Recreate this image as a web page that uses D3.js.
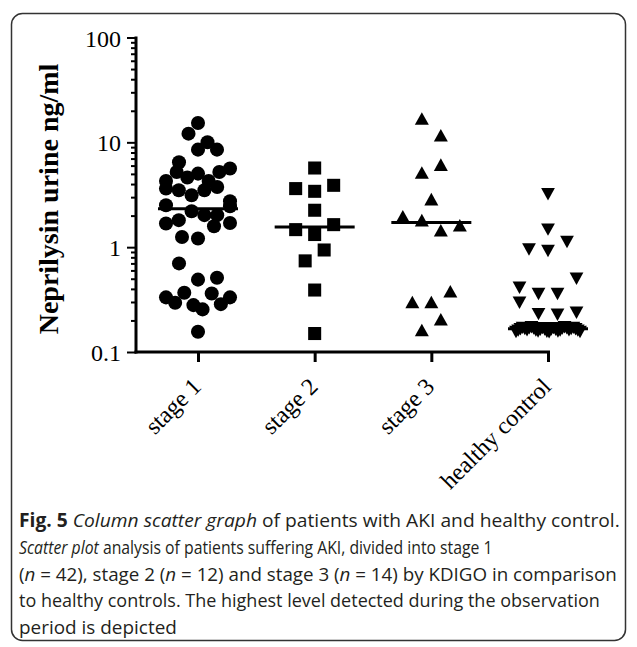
<!DOCTYPE html>
<html>
<head>
<meta charset="utf-8">
<script src="https://cdn.jsdelivr.net/npm/d3@7"></script>
<style>
  body { margin: 0; background: #fff; }
  svg { display: block; }
</style>
</head>
<body>
<div id="chart"></div>
<script>
// data (ng/ml), each column listed left to right as plotted
const groups = ["stage 1", "stage 2", "stage 3", "healthy control"];
const stage1 = [2.51, 1.81, 6.45, 12.1, 4.28, 0.332, 2.2, 1.68, 0.70, 0.295, 5.21, 3.62, 8.52, 0.367,
  4.61, 2.02, 1.25, 3.49, 0.280, 15.3, 0.49, 0.156, 5.03, 0.255, 3.13, 2.02, 1.21, 8.52, 0.362, 4.28,
  5.21, 0.286, 3.49, 1.58, 0.51, 2.46, 0.332, 3.75, 10.0, 5.62, 2.74, 1.70];
const stage2 = [3.62, 1.47, 0.74, 5.69, 3.41, 2.25, 1.32, 0.39, 0.15, 0.94, 3.89, 1.64];
const stage3 = [1.97, 0.30, 1.81, 16.9, 5.15, 0.162, 2.87, 1.45, 0.30, 0.205, 11.7, 6.13, 1.62, 0.38];
const healthy = [3.20, 1.47, 0.95, 0.92, 1.12, 0.41, 0.357, 0.357, 0.50, 0.295, 0.230, 0.227, 0.237,
  0.155, 0.160, 0.165, 0.170, 0.166, 0.161, 0.168, 0.172, 0.167, 0.160, 0.157, 0.163, 0.169, 0.164, 0.156,
  0.154, 0.164, 0.169, 0.163, 0.157, 0.160, 0.167, 0.172, 0.168, 0.161, 0.166, 0.170, 0.165, 0.160, 0.155];
const yDecades = [0.1, 1, 10, 100];
const yTitle = "Neprilysin urine ng/ml";
const captionLines = [
  [["Fig. 5 ", "b"], ["Column scatter graph", "i"], [" of patients with AKI and healthy control.", ""]],
  [["Scatter plot", "i"], [" analysis of patients suffering AKI, divided into stage 1", ""]],
  [["(", ""], ["n", "i"], [" = 42), stage 2 (", ""], ["n", "i"], [" = 12) and stage 3 (", ""], ["n", "i"], [" = 14) by KDIGO in comparison", ""]],
  [["to healthy controls. The highest level detected during the observation", ""]],
  [["period is depicted", ""]]
];

const W = 637, H = 647;
const PLOT = {left: 136, right: 550, top: 37.5, bottom: 352};
const ROW_GAP = 17, STEP = 19, MAX_SPREAD = 64;
const SERIF = '"Liberation Serif", "Times New Roman", serif';

const svg = d3.select('#chart').append('svg')
  .attr('width', W).attr('height', H);

// rounded frame around figure + caption
svg.append('rect')
  .attr('x', 11.5).attr('y', 13.5)
  .attr('width', 614).attr('height', 627)
  .attr('rx', 11)
  .attr('fill', 'none')
  .attr('stroke', '#333')
  .attr('stroke-width', 1.5);

const yScale = d3.scaleLog()
  .domain([0.1, 100])
  .range([PLOT.bottom, PLOT.top]);
const xScale = d3.scalePoint()
  .domain(groups)
  .range([198, 548]);

// Prism-like column scatter: rows of near-equal values spread symmetrically
function columnScatter(values, cx) {
  const pts = values.map((v, i) => ({v, i, py: yScale(v)}));
  const rows = [];
  let row = null;
  pts.slice().sort((a, b) => a.v - b.v).forEach(p => {
    if (!row || row[0].py - p.py > ROW_GAP) { row = [p]; rows.push(row); }
    else row.push(p);
  });
  rows.forEach(r => {
    r.sort((a, b) => a.i - b.i);
    const n = r.length;
    const step = n > 1 ? Math.min(STEP, MAX_SPREAD / (n - 1)) : 0;
    r.forEach((p, k) => { p.px = cx + (k - (n - 1) / 2) * step; });
  });
  return pts;
}

// triangles centred on their bounding box
const triUp = {draw(ctx, size) {
  const w = Math.sqrt(size), h = w * 0.9;
  ctx.moveTo(0, -h / 2); ctx.lineTo(w / 2, h / 2); ctx.lineTo(-w / 2, h / 2); ctx.closePath();
}};
const triDown = {draw(ctx, size) {
  const w = Math.sqrt(size), h = w * 0.9;
  ctx.moveTo(0, h / 2); ctx.lineTo(w / 2, -h / 2); ctx.lineTo(-w / 2, -h / 2); ctx.closePath();
}};

const series = [
  {name: groups[0], values: stage1, symbol: d3.symbolCircle, size: 155},
  {name: groups[1], values: stage2, symbol: d3.symbolSquare, size: 170},
  {name: groups[2], values: stage3, symbol: triUp, size: 196},
  {name: groups[3], values: healthy, symbol: triDown, size: 190}
];

const plot = svg.append('g');

series.forEach(s => {
  const cx = xScale(s.name);
  const pts = columnScatter(s.values, cx);
  plot.append('g').selectAll('path')
    .data(pts)
    .join('path')
    .attr('transform', d => `translate(${d.px},${d.py})`)
    .attr('d', d3.symbol(s.symbol, s.size))
    .attr('fill', '#000');
  // median bar
  const med = d3.median(s.values);
  plot.append('line')
    .attr('x1', cx - 40).attr('x2', cx + 40)
    .attr('y1', yScale(med)).attr('y2', yScale(med))
    .attr('stroke', '#000')
    .attr('stroke-width', 3);
});

// y axis (log, minor ticks unlabeled)
const isDecade = d => yDecades.some(t => Math.abs(t - d) < 1e-9);
const yAxis = d3.axisLeft(yScale)
  .tickValues(yScale.ticks())
  .tickSizeOuter(0)
  .tickFormat(d => isDecade(d) ? d3.format('~g')(d) : '');
const gy = svg.append('g')
  .attr('transform', `translate(${PLOT.left},0)`)
  .call(yAxis);
gy.select('.domain')
  .attr('stroke-width', 3)
  .attr('d', `M0,${PLOT.top - 1}V${PLOT.bottom + 1.5}`);
gy.selectAll('.tick line')
  .attr('stroke-width', 2)
  .attr('x2', d => isDecade(d) ? -9 : -5);
gy.selectAll('.tick text')
  .attr('x', -15)
  .attr('dy', '0.36em')
  .style('font-family', SERIF)
  .style('font-size', '24px')
  .attr('fill', '#000');

// x axis
const xAxis = d3.axisBottom(xScale).tickSize(10).tickSizeOuter(0);
const gx = svg.append('g')
  .attr('transform', `translate(0,${PLOT.bottom})`)
  .call(xAxis);
gx.select('.domain')
  .attr('stroke-width', 3)
  .attr('d', `M${PLOT.left - 1.5},0H${PLOT.right}`);
gx.selectAll('.tick line').attr('stroke-width', 3);
gx.selectAll('.tick text')
  .attr('y', 0).attr('dy', 0)
  .attr('text-anchor', 'end')
  .attr('transform', 'translate(4,36) rotate(-45)')
  .style('font-family', SERIF)
  .style('font-size', '24px')
  .attr('fill', '#000');

// y axis title
svg.append('text')
  .attr('transform', `translate(58,${199}) rotate(-90)`)
  .attr('text-anchor', 'middle')
  .style('font-family', SERIF)
  .style('font-weight', 'bold')
  .style('font-size', '28px')
  .text(yTitle);

// caption: each line squeezed horizontally to the width it has in the original
const CAP_LEFT = 19;
const capRight = [620, 493, 617, 600, 177];
const cap = svg.append('g')
  .style('font-family', '"Open Sans", "Noto Sans", sans-serif')
  .style('font-size', '19px')
  .attr('fill', '#231f20');
captionLines.forEach((line, li) => {
  const t = cap.append('text').attr('x', 0).attr('y', 0);
  line.forEach(([str, st]) => {
    t.append('tspan')
      .style('font-weight', st === 'b' ? 'bold' : null)
      .style('font-style', st === 'i' ? 'italic' : null)
      .text(str);
  });
  const sx = (capRight[li] - CAP_LEFT) / t.node().getComputedTextLength();
  t.attr('transform', `translate(${CAP_LEFT},${527 + li * 26.8}) scale(${sx},1)`);
});
</script>
</body>
</html>
